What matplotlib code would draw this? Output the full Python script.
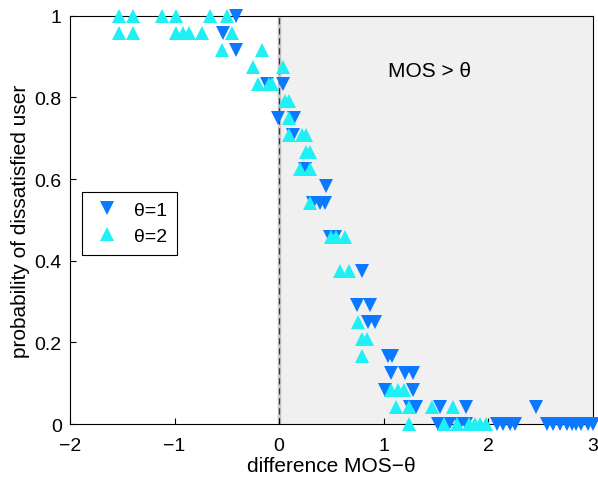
import matplotlib
matplotlib.use("Agg")
import matplotlib.pyplot as plt

plt.rcParams['font.family'] = ['Liberation Sans', 'DejaVu Sans']

# theta = 1 (blue, down triangles)
x_t1 = [-0.41, -0.54, -0.41, -0.12, 0.04, -0.01, 0.14, 0.13, 0.25, 0.45,
        0.32, 0.39, 0.44, 0.49, 0.53, 0.79, 0.74, 0.87, 0.85, 0.92,
        1.04, 1.08, 1.07, 1.20, 1.28, 1.01, 1.28,
        1.25, 1.31, 1.54, 1.79, 2.46,
        1.52, 1.62, 1.73, 1.79, 2.08, 2.14, 2.21, 2.25,
        2.56, 2.62, 2.68, 2.75, 2.80, 2.84, 2.89, 2.95, 3.00]
y_t1 = [1.0, 0.958, 0.917, 0.833, 0.833, 0.75, 0.75, 0.708, 0.625, 0.583,
        0.542, 0.542, 0.542, 0.458, 0.458, 0.375, 0.292, 0.292, 0.25, 0.25,
        0.167, 0.167, 0.125, 0.125, 0.125, 0.083, 0.083,
        0.042, 0.042, 0.042, 0.042, 0.042,
        0, 0, 0, 0, 0, 0, 0, 0,
        0, 0, 0, 0, 0, 0, 0, 0, 0]

# theta = 2 (cyan, up triangles)
x_t2 = [-1.53, -1.40, -1.12, -0.99, -0.66, -0.50,
        -1.53, -1.40, -0.99, -0.92, -0.86, -0.74, -0.45,
        -0.55, -0.16, -0.25, 0.04, -0.20, -0.10, -0.07,
        0.06, 0.09, 0.09, 0.09, 0.215, 0.26, 0.26, 0.29, 0.20, 0.29,
        0.29, 0.50, 0.54, 0.63, 0.58, 0.67, 0.75, 0.79, 0.84, 0.79,
        1.07, 1.14, 1.19, 1.12, 1.24, 1.46, 1.66,
        1.24, 1.58, 1.70, 1.81, 1.87, 1.92, 1.98]
y_t2 = [1.0, 1.0, 1.0, 1.0, 1.0, 1.0,
        0.958, 0.958, 0.958, 0.958, 0.958, 0.958, 0.958,
        0.917, 0.917, 0.875, 0.875, 0.833, 0.833, 0.833,
        0.792, 0.792, 0.75, 0.708, 0.708, 0.708, 0.667, 0.667, 0.625, 0.625,
        0.542, 0.458, 0.458, 0.458, 0.375, 0.375, 0.25, 0.208, 0.208, 0.167,
        0.083, 0.083, 0.083, 0.042, 0.042, 0.042, 0.042,
        0, 0, 0, 0, 0, 0, 0]

fig = plt.figure(figsize=(5.98, 4.81), dpi=100)
ax = fig.add_axes([0.117, 0.1164, 0.8746, 0.8486])

# shaded region MOS > theta
ax.axvspan(0, 3, color='#f0f0f0', zorder=0)
ax.axvline(0, color='#c8c8c8', lw=2.5, zorder=1)
ax.axvline(0, color='#333333', lw=0.9, ls=(0, (5, 3)), zorder=1)
ax.text(1.44, 0.865, 'MOS > θ', fontsize=15, ha='center', va='center')

ax.plot(x_t1, y_t1, 'v', color='#0a78ff', ms=10, mew=0, clip_on=False,
        label='θ=1', zorder=3)
ax.plot(x_t2, y_t2, '^', color='#1ef0f5', ms=10, mew=0, clip_on=False,
        label='θ=2', zorder=4)

ax.set_xlim(-2, 3)
ax.set_ylim(0, 1)
ax.set_xticks([-2, -1, 0, 1, 2, 3])
ax.set_xticklabels(['\u22122', '\u22121', '0', '1', '2', '3'])
ax.set_yticks([0, 0.2, 0.4, 0.6, 0.8, 1])
ax.set_yticklabels(['0', '0.2', '0.4', '0.6', '0.8', '1'])
ax.tick_params(direction='in', labelsize=14, length=4)
ax.tick_params(axis='x', pad=9)
ax.tick_params(axis='y', pad=6)
ax.set_xlabel('difference MOS\u2212θ', fontsize=15, labelpad=2)
ax.set_ylabel('probability of dissatisfied user', fontsize=15, labelpad=3)

leg = ax.legend(loc='lower left', bbox_to_anchor=(0.023, 0.414),
                borderaxespad=0, fontsize=14, fancybox=False,
                edgecolor='black', framealpha=1, handletextpad=0.6,
                borderpad=0.5, labelspacing=0.45, handlelength=1.6)
leg.get_frame().set_linewidth(0.8)

fig.savefig('out.png', dpi=100)
